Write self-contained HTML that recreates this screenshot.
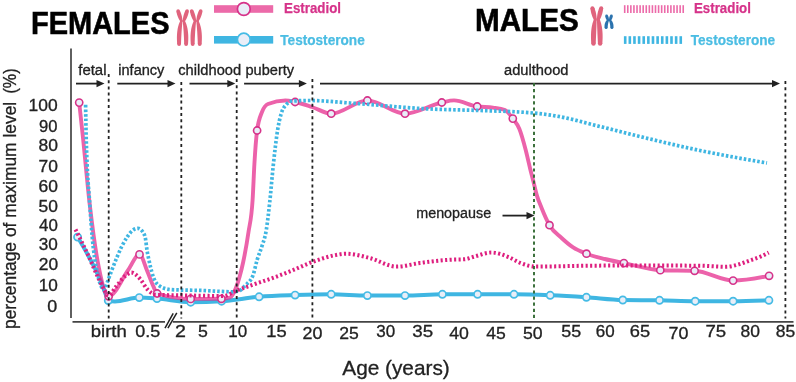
<!DOCTYPE html>
<html><head><meta charset="utf-8"><style>
html,body{margin:0;padding:0;background:#fff;}
svg{display:block;will-change:transform;}
text{font-family:"Liberation Sans",sans-serif;}
</style></head><body>
<svg width="796" height="382" viewBox="0 0 796 382">
<rect width="796" height="382" fill="#fff"/>
<line x1="71" y1="48.5" x2="71" y2="318" stroke="#444" stroke-width="1.7"/><line x1="72.5" y1="321.9" x2="165" y2="321.9" stroke="#444" stroke-width="1.6"/><line x1="172.8" y1="321.9" x2="793.5" y2="321.9" stroke="#444" stroke-width="1.6"/><line x1="165" y1="328.2" x2="173.2" y2="313.3" stroke="#222" stroke-width="1.5"/><line x1="167.9" y1="328.2" x2="176.8" y2="312.9" stroke="#222" stroke-width="1.5"/><line x1="76" y1="83.6" x2="98.5" y2="83.6" stroke="#222" stroke-width="1.8"/><path d="M96.5,80.0 L104.5,83.6 L96.5,87.19999999999999 Z" fill="#222"/><line x1="117.3" y1="83.6" x2="169.5" y2="83.6" stroke="#222" stroke-width="1.8"/><path d="M167.5,80.0 L175.5,83.6 L167.5,87.19999999999999 Z" fill="#222"/><line x1="189.5" y1="83.6" x2="229.3" y2="83.6" stroke="#222" stroke-width="1.8"/><path d="M227.3,80.0 L235.3,83.6 L227.3,87.19999999999999 Z" fill="#222"/><line x1="244.1" y1="83.6" x2="300.9" y2="83.6" stroke="#222" stroke-width="1.8"/><path d="M298.9,80.0 L306.9,83.6 L298.9,87.19999999999999 Z" fill="#222"/><line x1="320" y1="83.6" x2="774" y2="83.6" stroke="#222" stroke-width="1.8"/><path d="M772,80.0 L780,83.6 L772,87.19999999999999 Z" fill="#222"/><line x1="502.5" y1="215.6" x2="528.5" y2="215.6" stroke="#222" stroke-width="1.8"/><path d="M526.5,212.0 L534.5,215.6 L526.5,219.2 Z" fill="#222"/><path d="M77.60,237.10 C81.50,243.60 85.40,250.09 89.30,257.50 C92.97,264.46 96.63,270.96 100.30,280.00 C101.93,284.03 103.57,288.87 105.20,293.00 C106.23,295.61 107.27,300.35 108.30,300.60 C110.53,301.13 112.77,301.40 115.00,301.40 C123.10,301.40 131.20,297.60 139.30,297.60 C145.20,297.60 151.10,298.16 157.00,298.60 C168.23,299.43 179.47,302.20 190.70,302.20 C201.00,302.20 211.30,301.87 221.60,301.20 C234.10,300.39 246.60,297.82 259.10,296.80 C271.10,295.82 283.10,295.52 295.10,295.10 C307.13,294.68 319.17,294.30 331.20,294.30 C343.27,294.30 355.33,295.60 367.40,295.60 C379.93,295.60 392.47,295.60 405.00,295.60 C417.47,295.60 429.93,294.30 442.40,294.30 C454.13,294.30 465.87,294.30 477.60,294.30 C489.73,294.30 501.87,294.30 514.00,294.30 C526.07,294.30 538.13,294.80 550.20,295.30 C562.27,295.80 574.33,296.52 586.40,297.30 C598.53,298.08 610.67,299.80 622.80,300.00 C635.03,300.20 647.27,300.10 659.50,300.30 C671.40,300.49 683.30,301.20 695.20,301.20 C707.83,301.20 720.47,301.20 733.10,301.20 C745.03,301.20 756.97,300.75 768.90,300.30" fill="none" stroke="#3fb6e2" stroke-width="4.0" stroke-linecap="round" stroke-linejoin="round"/><circle cx="77.6" cy="237.1" r="3.6" fill="#e9eef8" stroke="#45bbe5" stroke-width="1.7"/><circle cx="108.3" cy="300.6" r="3.6" fill="#e9eef8" stroke="#45bbe5" stroke-width="1.7"/><circle cx="139.3" cy="297.6" r="3.6" fill="#e9eef8" stroke="#45bbe5" stroke-width="1.7"/><circle cx="157" cy="298.6" r="3.6" fill="#e9eef8" stroke="#45bbe5" stroke-width="1.7"/><circle cx="190.7" cy="302.2" r="3.6" fill="#e9eef8" stroke="#45bbe5" stroke-width="1.7"/><circle cx="221.6" cy="301.2" r="3.6" fill="#e9eef8" stroke="#45bbe5" stroke-width="1.7"/><circle cx="259.1" cy="296.8" r="3.6" fill="#e9eef8" stroke="#45bbe5" stroke-width="1.7"/><circle cx="295.1" cy="295.1" r="3.6" fill="#e9eef8" stroke="#45bbe5" stroke-width="1.7"/><circle cx="331.2" cy="294.3" r="3.6" fill="#e9eef8" stroke="#45bbe5" stroke-width="1.7"/><circle cx="367.4" cy="295.6" r="3.6" fill="#e9eef8" stroke="#45bbe5" stroke-width="1.7"/><circle cx="405" cy="295.6" r="3.6" fill="#e9eef8" stroke="#45bbe5" stroke-width="1.7"/><circle cx="442.4" cy="294.3" r="3.6" fill="#e9eef8" stroke="#45bbe5" stroke-width="1.7"/><circle cx="477.6" cy="294.3" r="3.6" fill="#e9eef8" stroke="#45bbe5" stroke-width="1.7"/><circle cx="514" cy="294.3" r="3.6" fill="#e9eef8" stroke="#45bbe5" stroke-width="1.7"/><circle cx="550.2" cy="295.3" r="3.6" fill="#e9eef8" stroke="#45bbe5" stroke-width="1.7"/><circle cx="586.4" cy="297.3" r="3.6" fill="#e9eef8" stroke="#45bbe5" stroke-width="1.7"/><circle cx="622.8" cy="300.0" r="3.6" fill="#e9eef8" stroke="#45bbe5" stroke-width="1.7"/><circle cx="659.5" cy="300.3" r="3.6" fill="#e9eef8" stroke="#45bbe5" stroke-width="1.7"/><circle cx="695.2" cy="301.2" r="3.6" fill="#e9eef8" stroke="#45bbe5" stroke-width="1.7"/><circle cx="733.1" cy="301.2" r="3.6" fill="#e9eef8" stroke="#45bbe5" stroke-width="1.7"/><circle cx="768.9" cy="300.3" r="3.6" fill="#e9eef8" stroke="#45bbe5" stroke-width="1.7"/><path d="M79.20,102.60 C80.33,112.95 81.47,123.31 82.60,134.00 C85.03,156.96 87.47,185.24 89.90,206.00 C92.90,231.59 95.90,253.08 98.90,268.00 C102.17,284.25 105.43,296.30 108.70,296.30 C115.17,296.30 121.63,278.94 128.10,270.10 C131.90,264.90 135.70,254.40 139.50,254.40 C142.07,254.40 144.63,265.09 147.20,271.10 C149.23,275.86 151.27,281.86 153.30,286.20 C154.57,288.90 155.83,293.09 157.10,293.50 C168.30,297.10 179.50,298.90 190.70,298.90 C200.93,298.90 211.17,298.87 221.40,298.80 C224.27,298.78 227.13,298.37 230.00,297.50 C232.10,296.87 234.20,292.49 236.30,287.00 C237.47,283.95 238.63,280.24 239.80,276.00 C240.93,271.88 242.07,267.35 243.20,262.00 C244.97,253.66 246.73,244.14 248.50,232.00 C249.87,222.61 251.23,221.33 252.60,200.00 C253.20,190.63 253.80,174.18 254.40,164.00 C255.30,148.73 256.20,137.30 257.10,130.50 C258.73,118.17 260.37,116.36 262.00,112.00 C264.00,106.67 266.00,104.81 268.00,104.00 C273.77,101.67 279.53,100.50 285.30,100.50 C288.57,100.50 291.83,101.33 295.10,102.00 C300.73,103.16 306.37,105.19 312.00,107.00 C318.40,109.05 324.80,113.70 331.20,113.70 C343.27,113.70 355.33,100.50 367.40,100.50 C379.93,100.50 392.47,113.70 405.00,113.70 C417.27,113.70 429.53,105.02 441.80,102.50 C445.87,101.67 449.93,100.40 454.00,100.40 C461.73,100.40 469.47,105.42 477.20,106.50 C482.47,107.23 487.73,106.87 493.00,107.60 C497.00,108.16 501.00,108.40 505.00,110.00 C507.60,111.04 510.20,115.07 512.80,118.60 C515.00,121.59 517.20,123.56 519.40,129.00 C521.50,134.20 523.60,141.97 525.70,150.00 C527.27,155.99 528.83,163.37 530.40,169.70 C531.47,174.01 532.53,178.03 533.60,182.30 C534.63,186.44 535.67,191.27 536.70,194.90 C538.27,200.41 539.83,203.59 541.40,207.50 C544.10,214.25 546.80,220.52 549.50,225.20 C553.53,232.19 557.57,234.23 561.60,238.00 C565.43,241.58 569.27,244.88 573.10,247.40 C577.57,250.33 582.03,251.94 586.50,253.70 C592.57,256.09 598.63,257.46 604.70,259.00 C611.10,260.62 617.50,261.77 623.90,263.10 C636.03,265.61 648.17,269.78 660.30,270.20 C671.73,270.60 683.17,270.40 694.60,270.80 C707.43,271.25 720.27,280.60 733.10,280.60 C745.10,280.60 757.10,278.20 769.10,275.80" fill="none" stroke="#e52589" stroke-opacity="0.72" stroke-width="3.9" stroke-linecap="round" stroke-linejoin="round"/><circle cx="79.2" cy="102.6" r="3.6" fill="#e9eef8" stroke="#d6338a" stroke-width="1.6"/><circle cx="108.7" cy="296.3" r="3.6" fill="#e9eef8" stroke="#d6338a" stroke-width="1.6"/><circle cx="139.5" cy="254.4" r="3.6" fill="#e9eef8" stroke="#d6338a" stroke-width="1.6"/><circle cx="157.1" cy="293.5" r="3.6" fill="#e9eef8" stroke="#d6338a" stroke-width="1.6"/><circle cx="190.7" cy="298.9" r="3.6" fill="#e9eef8" stroke="#d6338a" stroke-width="1.6"/><circle cx="221.4" cy="298.8" r="3.6" fill="#e9eef8" stroke="#d6338a" stroke-width="1.6"/><circle cx="257.1" cy="130.5" r="3.6" fill="#e9eef8" stroke="#d6338a" stroke-width="1.6"/><circle cx="295.1" cy="102" r="3.6" fill="#e9eef8" stroke="#d6338a" stroke-width="1.6"/><circle cx="331.2" cy="113.7" r="3.6" fill="#e9eef8" stroke="#d6338a" stroke-width="1.6"/><circle cx="367.4" cy="100.5" r="3.6" fill="#e9eef8" stroke="#d6338a" stroke-width="1.6"/><circle cx="405" cy="113.7" r="3.6" fill="#e9eef8" stroke="#d6338a" stroke-width="1.6"/><circle cx="441.8" cy="102.5" r="3.6" fill="#e9eef8" stroke="#d6338a" stroke-width="1.6"/><circle cx="477.2" cy="106.5" r="3.6" fill="#e9eef8" stroke="#d6338a" stroke-width="1.6"/><circle cx="512.8" cy="118.6" r="3.6" fill="#e9eef8" stroke="#d6338a" stroke-width="1.6"/><circle cx="549.5" cy="225.2" r="3.6" fill="#e9eef8" stroke="#d6338a" stroke-width="1.6"/><circle cx="586.5" cy="253.7" r="3.6" fill="#e9eef8" stroke="#d6338a" stroke-width="1.6"/><circle cx="623.9" cy="263.1" r="3.6" fill="#e9eef8" stroke="#d6338a" stroke-width="1.6"/><circle cx="660.3" cy="270.2" r="3.6" fill="#e9eef8" stroke="#d6338a" stroke-width="1.6"/><circle cx="694.6" cy="270.8" r="3.6" fill="#e9eef8" stroke="#d6338a" stroke-width="1.6"/><circle cx="733.1" cy="280.6" r="3.6" fill="#e9eef8" stroke="#d6338a" stroke-width="1.6"/><circle cx="769.1" cy="275.8" r="3.6" fill="#e9eef8" stroke="#d6338a" stroke-width="1.6"/><path d="M85.60,104.80 C85.77,116.24 85.93,127.68 86.10,134.00 C87.37,182.00 88.63,186.46 89.90,206.00 C91.47,230.16 93.03,247.87 94.60,258.00 C97.90,279.33 101.20,290.00 104.50,290.00 C105.17,290.00 105.83,286.32 106.50,284.50 C108.17,279.94 109.83,275.35 111.50,271.00 C113.27,266.39 115.03,261.90 116.80,257.70 C118.53,253.58 120.27,249.46 122.00,246.00 C123.77,242.47 125.53,239.40 127.30,236.80 C129.03,234.25 130.77,231.89 132.50,230.50 C134.33,229.03 136.17,228.30 138.00,228.30 C139.73,228.30 141.47,229.70 143.20,232.50 C144.03,233.85 144.87,235.03 145.70,240.10 C146.03,242.13 146.37,245.70 146.70,248.10 C147.53,254.11 148.37,257.28 149.20,261.20 C150.07,265.28 150.93,268.93 151.80,272.00 C153.97,279.68 156.13,283.49 158.30,285.10 C162.33,288.10 166.37,289.26 170.40,289.60 C173.60,289.87 176.80,289.89 180.00,290.00 C186.67,290.23 193.33,290.21 200.00,290.40 C211.33,290.72 222.67,291.80 234.00,291.80 C236.00,291.80 238.00,291.37 240.00,290.50 C241.67,289.78 243.33,287.43 245.00,285.60 C247.67,282.67 250.33,282.17 253.00,275.30 C254.37,271.78 255.73,264.56 257.10,260.00 C258.73,254.56 260.37,251.42 262.00,246.00 C263.43,241.25 264.87,238.83 266.30,230.00 C267.43,223.02 268.57,212.97 269.70,202.50 C270.87,191.72 272.03,176.98 273.20,166.00 C274.70,151.88 276.20,138.62 277.70,129.50 C278.73,123.22 279.77,118.77 280.80,115.00 C282.47,108.91 284.13,107.05 285.80,105.00 C287.97,102.33 290.13,101.12 292.30,101.00 C298.20,100.67 304.10,100.50 310.00,100.50 C323.33,100.50 336.67,102.11 350.00,103.00 C376.67,104.78 403.33,107.74 430.00,109.00 C446.67,109.79 463.33,109.86 480.00,110.50 C497.67,111.18 515.33,111.33 533.00,113.00 C540.33,113.69 547.67,114.60 555.00,115.80 C570.00,118.25 585.00,122.85 600.00,126.50 C616.67,130.56 633.33,135.00 650.00,139.00 C666.67,143.00 683.33,146.98 700.00,150.50 C722.33,155.22 744.67,159.11 767.00,163.00" fill="none" stroke="#3fb6e2" stroke-width="3.7" stroke-dasharray="2.55 2.0"/><path d="M75.50,229.50 C79.83,238.07 84.17,246.64 88.50,256.00 C91.50,262.48 94.50,269.91 97.50,276.20 C99.73,280.88 101.97,285.71 104.20,289.50 C105.63,291.93 107.07,296.00 108.50,296.00 C110.93,296.00 113.37,289.78 115.80,286.90 C119.77,282.20 123.73,276.20 127.70,274.00 C128.87,273.35 130.03,272.60 131.20,272.60 C134.20,272.60 137.20,275.72 140.20,279.10 C142.53,281.73 144.87,286.67 147.20,289.20 C150.17,292.42 153.13,294.68 156.10,294.80 C164.07,295.13 172.03,295.15 180.00,295.30 C194.67,295.58 209.33,296.00 224.00,296.00 C228.00,296.00 232.00,292.42 236.00,290.80 C242.33,288.24 248.67,286.22 255.00,284.00 C261.33,281.78 267.67,279.80 274.00,277.50 C279.33,275.56 284.67,273.52 290.00,271.40 C297.47,268.43 304.93,264.69 312.40,262.00 C319.93,259.28 327.47,256.62 335.00,255.20 C338.77,254.49 342.53,253.70 346.30,253.70 C354.20,253.70 362.10,256.13 370.00,258.10 C378.83,260.30 387.67,266.60 396.50,266.60 C404.33,266.60 412.17,264.05 420.00,263.00 C430.13,261.64 440.27,260.25 450.40,259.70 C455.07,259.45 459.73,259.57 464.40,259.30 C467.93,259.10 471.47,257.32 475.00,256.40 C480.43,254.99 485.87,252.50 491.30,252.50 C497.07,252.50 502.83,254.79 508.60,257.10 C512.63,258.72 516.67,261.56 520.70,263.10 C525.47,264.92 530.23,266.60 535.00,266.60 C553.33,266.60 571.67,265.86 590.00,265.70 C605.33,265.57 620.67,265.50 636.00,265.50 C657.33,265.50 678.67,265.57 700.00,265.70 C708.67,265.75 717.33,266.80 726.00,266.80 C730.43,266.80 734.87,265.45 739.30,264.20 C743.07,263.14 746.83,261.57 750.60,260.20 C754.37,258.83 758.13,257.70 761.90,256.00 C764.17,254.98 766.43,253.79 768.70,252.60" fill="none" stroke="#de1f7f" stroke-width="4" stroke-dasharray="2.1 2.4"/><line x1="108.7" y1="74" x2="108.7" y2="318.5" stroke="#222" stroke-width="1.8" stroke-dasharray="3 3.2"/><line x1="181.3" y1="82" x2="181.3" y2="318.5" stroke="#222" stroke-width="1.8" stroke-dasharray="3 3.2"/><line x1="236.7" y1="79" x2="236.7" y2="318.5" stroke="#222" stroke-width="1.8" stroke-dasharray="3 3.2"/><line x1="312.4" y1="79" x2="312.4" y2="318.5" stroke="#222" stroke-width="1.8" stroke-dasharray="3 3.2"/><line x1="785.4" y1="81" x2="785.4" y2="318.5" stroke="#222" stroke-width="1.8" stroke-dasharray="3 3.2"/><line x1="534" y1="83" x2="534" y2="321" stroke="#346b34" stroke-width="1.9" stroke-dasharray="3.2 2.9"/>
<rect x="214" y="5.2" width="59.2" height="7.6" fill="#ec6aa9"/><circle cx="243.8" cy="9" r="6.4" fill="#e9eef8" stroke="#d6338a" stroke-width="1.7"/><rect x="214" y="36" width="59.2" height="7.6" fill="#3fb6e2"/><circle cx="243.8" cy="39.6" r="6.4" fill="#e9eef8" stroke="#45bbe5" stroke-width="1.7"/><rect x="623.90" y="5.2" width="1.6" height="7.8" fill="#ec6aa9"/><rect x="626.98" y="5.2" width="1.6" height="7.8" fill="#ec6aa9"/><rect x="630.06" y="5.2" width="1.6" height="7.8" fill="#ec6aa9"/><rect x="633.14" y="5.2" width="1.6" height="7.8" fill="#ec6aa9"/><rect x="636.22" y="5.2" width="1.6" height="7.8" fill="#ec6aa9"/><rect x="639.30" y="5.2" width="1.6" height="7.8" fill="#ec6aa9"/><rect x="642.38" y="5.2" width="1.6" height="7.8" fill="#ec6aa9"/><rect x="645.46" y="5.2" width="1.6" height="7.8" fill="#ec6aa9"/><rect x="648.54" y="5.2" width="1.6" height="7.8" fill="#ec6aa9"/><rect x="651.62" y="5.2" width="1.6" height="7.8" fill="#ec6aa9"/><rect x="654.70" y="5.2" width="1.6" height="7.8" fill="#ec6aa9"/><rect x="657.78" y="5.2" width="1.6" height="7.8" fill="#ec6aa9"/><rect x="660.86" y="5.2" width="1.6" height="7.8" fill="#ec6aa9"/><rect x="663.94" y="5.2" width="1.6" height="7.8" fill="#ec6aa9"/><rect x="667.02" y="5.2" width="1.6" height="7.8" fill="#ec6aa9"/><rect x="670.10" y="5.2" width="1.6" height="7.8" fill="#ec6aa9"/><rect x="673.18" y="5.2" width="1.6" height="7.8" fill="#ec6aa9"/><rect x="676.26" y="5.2" width="1.6" height="7.8" fill="#ec6aa9"/><rect x="679.34" y="5.2" width="1.6" height="7.8" fill="#ec6aa9"/><rect x="682.42" y="5.2" width="1.6" height="7.8" fill="#ec6aa9"/><rect x="623.90" y="36.2" width="2.6" height="7.7" fill="#3fb6e2"/><rect x="628.53" y="36.2" width="2.6" height="7.7" fill="#3fb6e2"/><rect x="633.16" y="36.2" width="2.6" height="7.7" fill="#3fb6e2"/><rect x="637.79" y="36.2" width="2.6" height="7.7" fill="#3fb6e2"/><rect x="642.42" y="36.2" width="2.6" height="7.7" fill="#3fb6e2"/><rect x="647.05" y="36.2" width="2.6" height="7.7" fill="#3fb6e2"/><rect x="651.68" y="36.2" width="2.6" height="7.7" fill="#3fb6e2"/><rect x="656.31" y="36.2" width="2.6" height="7.7" fill="#3fb6e2"/><rect x="660.94" y="36.2" width="2.6" height="7.7" fill="#3fb6e2"/><rect x="665.57" y="36.2" width="2.6" height="7.7" fill="#3fb6e2"/><rect x="670.20" y="36.2" width="2.6" height="7.7" fill="#3fb6e2"/><rect x="674.83" y="36.2" width="2.6" height="7.7" fill="#3fb6e2"/><rect x="679.46" y="36.2" width="2.6" height="7.7" fill="#3fb6e2"/><path d="M176.38,11.54 L176.47,12.00 L176.56,12.45 L176.65,12.90 L176.76,13.35 L176.87,13.79 L176.99,14.23 L177.12,14.66 L177.25,15.09 L177.39,15.52 L177.54,15.94 L177.69,16.35 L177.85,16.77 L178.02,17.18 L178.19,17.58 L178.37,17.98 L178.56,18.38 L178.76,18.77 L178.96,19.15 L179.17,19.54 L179.38,19.91 L179.61,20.29 L179.84,20.66 L180.07,21.02 L180.31,21.38 L182.49,20.62 L182.45,20.19 L182.41,19.76 L182.37,19.34 L182.32,18.91 L182.26,18.48 L182.19,18.06 L182.12,17.63 L182.04,17.21 L181.95,16.78 L181.86,16.36 L181.76,15.94 L181.65,15.51 L181.53,15.09 L181.41,14.67 L181.29,14.25 L181.15,13.83 L181.01,13.40 L180.86,12.98 L180.70,12.56 L180.54,12.14 L180.37,11.72 L180.19,11.30 L180.01,10.88 L179.82,10.46 Z" fill="#e0637d"/><path d="M176.30,11.00 a1.80,1.80 0 1 0 3.60,0 a1.80,1.80 0 1 0 -3.60,0 Z" fill="#e0637d"/><path d="M180.25,21.00 a1.15,1.15 0 1 0 2.30,0 a1.15,1.15 0 1 0 -2.30,0 Z" fill="#e0637d"/><path d="M180.30,20.66 L179.95,21.39 L179.61,22.14 L179.30,22.91 L179.00,23.72 L178.73,24.54 L178.47,25.39 L178.23,26.26 L178.01,27.15 L177.81,28.07 L177.63,29.00 L177.48,29.96 L177.34,30.94 L177.22,31.93 L177.12,32.95 L177.04,33.99 L176.98,35.04 L176.93,36.12 L176.91,37.21 L176.91,38.32 L176.93,39.45 L176.97,40.60 L177.03,41.77 L177.10,42.95 L177.20,44.15 L181.00,44.05 L181.04,42.88 L181.08,41.73 L181.13,40.60 L181.17,39.49 L181.22,38.40 L181.27,37.34 L181.33,36.29 L181.38,35.27 L181.44,34.26 L181.49,33.28 L181.55,32.31 L181.61,31.36 L181.68,30.43 L181.74,29.52 L181.81,28.63 L181.88,27.76 L181.95,26.90 L182.02,26.06 L182.09,25.24 L182.17,24.43 L182.25,23.64 L182.33,22.86 L182.41,22.09 L182.50,21.34 Z" fill="#e0637d"/><path d="M180.25,21.00 a1.15,1.15 0 1 0 2.30,0 a1.15,1.15 0 1 0 -2.30,0 Z" fill="#e0637d"/><path d="M177.20,44.10 a1.90,1.90 0 1 0 3.80,0 a1.90,1.90 0 1 0 -3.80,0 Z" fill="#e0637d"/><path d="M185.38,10.46 L185.19,10.88 L185.01,11.30 L184.83,11.72 L184.66,12.14 L184.50,12.56 L184.34,12.98 L184.19,13.40 L184.05,13.83 L183.91,14.25 L183.79,14.67 L183.67,15.09 L183.55,15.51 L183.44,15.94 L183.34,16.36 L183.25,16.78 L183.16,17.21 L183.08,17.63 L183.01,18.06 L182.94,18.48 L182.88,18.91 L182.83,19.34 L182.79,19.76 L182.75,20.19 L182.71,20.62 L184.89,21.38 L185.13,21.02 L185.36,20.66 L185.59,20.29 L185.82,19.91 L186.03,19.54 L186.24,19.15 L186.44,18.77 L186.64,18.38 L186.83,17.98 L187.01,17.58 L187.18,17.18 L187.35,16.77 L187.51,16.35 L187.66,15.94 L187.81,15.52 L187.95,15.09 L188.08,14.66 L188.21,14.23 L188.33,13.79 L188.44,13.35 L188.55,12.90 L188.64,12.45 L188.73,12.00 L188.82,11.54 Z" fill="#e0637d"/><path d="M185.30,11.00 a1.80,1.80 0 1 0 3.60,0 a1.80,1.80 0 1 0 -3.60,0 Z" fill="#e0637d"/><path d="M182.65,21.00 a1.15,1.15 0 1 0 2.30,0 a1.15,1.15 0 1 0 -2.30,0 Z" fill="#e0637d"/><path d="M182.70,21.34 L182.79,22.09 L182.87,22.86 L182.95,23.64 L183.03,24.43 L183.11,25.24 L183.18,26.06 L183.25,26.90 L183.32,27.76 L183.39,28.63 L183.46,29.52 L183.52,30.43 L183.59,31.36 L183.65,32.31 L183.71,33.28 L183.76,34.26 L183.82,35.27 L183.87,36.29 L183.93,37.34 L183.98,38.40 L184.03,39.49 L184.07,40.60 L184.12,41.73 L184.16,42.88 L184.20,44.05 L188.00,44.15 L188.10,42.95 L188.17,41.77 L188.23,40.60 L188.27,39.45 L188.29,38.32 L188.29,37.21 L188.27,36.12 L188.22,35.04 L188.16,33.99 L188.08,32.95 L187.98,31.93 L187.86,30.94 L187.72,29.96 L187.57,29.00 L187.39,28.07 L187.19,27.15 L186.97,26.26 L186.73,25.39 L186.47,24.54 L186.20,23.72 L185.90,22.91 L185.59,22.14 L185.25,21.39 L184.90,20.66 Z" fill="#e0637d"/><path d="M182.65,21.00 a1.15,1.15 0 1 0 2.30,0 a1.15,1.15 0 1 0 -2.30,0 Z" fill="#e0637d"/><path d="M184.20,44.10 a1.90,1.90 0 1 0 3.80,0 a1.90,1.90 0 1 0 -3.80,0 Z" fill="#e0637d"/><path d="M189.98,11.54 L190.07,12.00 L190.16,12.45 L190.25,12.90 L190.36,13.35 L190.47,13.79 L190.59,14.23 L190.72,14.66 L190.85,15.09 L190.99,15.52 L191.14,15.94 L191.29,16.35 L191.45,16.77 L191.62,17.18 L191.79,17.58 L191.97,17.98 L192.16,18.38 L192.36,18.77 L192.56,19.15 L192.77,19.54 L192.98,19.91 L193.21,20.29 L193.44,20.66 L193.67,21.02 L193.91,21.38 L196.09,20.62 L196.05,20.19 L196.01,19.76 L195.97,19.34 L195.92,18.91 L195.86,18.48 L195.79,18.06 L195.72,17.63 L195.64,17.21 L195.55,16.78 L195.46,16.36 L195.36,15.94 L195.25,15.51 L195.13,15.09 L195.01,14.67 L194.89,14.25 L194.75,13.83 L194.61,13.40 L194.46,12.98 L194.30,12.56 L194.14,12.14 L193.97,11.72 L193.79,11.30 L193.61,10.88 L193.42,10.46 Z" fill="#e0637d"/><path d="M189.90,11.00 a1.80,1.80 0 1 0 3.60,0 a1.80,1.80 0 1 0 -3.60,0 Z" fill="#e0637d"/><path d="M193.85,21.00 a1.15,1.15 0 1 0 2.30,0 a1.15,1.15 0 1 0 -2.30,0 Z" fill="#e0637d"/><path d="M193.90,20.66 L193.55,21.39 L193.21,22.14 L192.90,22.91 L192.60,23.72 L192.33,24.54 L192.07,25.39 L191.83,26.26 L191.61,27.15 L191.41,28.07 L191.23,29.00 L191.08,29.96 L190.94,30.94 L190.82,31.93 L190.72,32.95 L190.64,33.99 L190.58,35.04 L190.53,36.12 L190.51,37.21 L190.51,38.32 L190.53,39.45 L190.57,40.60 L190.63,41.77 L190.70,42.95 L190.80,44.15 L194.60,44.05 L194.64,42.88 L194.68,41.73 L194.73,40.60 L194.77,39.49 L194.82,38.40 L194.87,37.34 L194.93,36.29 L194.98,35.27 L195.04,34.26 L195.09,33.28 L195.15,32.31 L195.21,31.36 L195.28,30.43 L195.34,29.52 L195.41,28.63 L195.48,27.76 L195.55,26.90 L195.62,26.06 L195.69,25.24 L195.77,24.43 L195.85,23.64 L195.93,22.86 L196.01,22.09 L196.10,21.34 Z" fill="#e0637d"/><path d="M193.85,21.00 a1.15,1.15 0 1 0 2.30,0 a1.15,1.15 0 1 0 -2.30,0 Z" fill="#e0637d"/><path d="M190.80,44.10 a1.90,1.90 0 1 0 3.80,0 a1.90,1.90 0 1 0 -3.80,0 Z" fill="#e0637d"/><path d="M198.98,10.46 L198.79,10.88 L198.61,11.30 L198.43,11.72 L198.26,12.14 L198.10,12.56 L197.94,12.98 L197.79,13.40 L197.65,13.83 L197.51,14.25 L197.39,14.67 L197.27,15.09 L197.15,15.51 L197.04,15.94 L196.94,16.36 L196.85,16.78 L196.76,17.21 L196.68,17.63 L196.61,18.06 L196.54,18.48 L196.48,18.91 L196.43,19.34 L196.39,19.76 L196.35,20.19 L196.31,20.62 L198.49,21.38 L198.73,21.02 L198.96,20.66 L199.19,20.29 L199.42,19.91 L199.63,19.54 L199.84,19.15 L200.04,18.77 L200.24,18.38 L200.43,17.98 L200.61,17.58 L200.78,17.18 L200.95,16.77 L201.11,16.35 L201.26,15.94 L201.41,15.52 L201.55,15.09 L201.68,14.66 L201.81,14.23 L201.93,13.79 L202.04,13.35 L202.15,12.90 L202.24,12.45 L202.33,12.00 L202.42,11.54 Z" fill="#e0637d"/><path d="M198.90,11.00 a1.80,1.80 0 1 0 3.60,0 a1.80,1.80 0 1 0 -3.60,0 Z" fill="#e0637d"/><path d="M196.25,21.00 a1.15,1.15 0 1 0 2.30,0 a1.15,1.15 0 1 0 -2.30,0 Z" fill="#e0637d"/><path d="M196.30,21.34 L196.39,22.09 L196.47,22.86 L196.55,23.64 L196.63,24.43 L196.71,25.24 L196.78,26.06 L196.85,26.90 L196.92,27.76 L196.99,28.63 L197.06,29.52 L197.12,30.43 L197.19,31.36 L197.25,32.31 L197.31,33.28 L197.36,34.26 L197.42,35.27 L197.47,36.29 L197.53,37.34 L197.58,38.40 L197.63,39.49 L197.67,40.60 L197.72,41.73 L197.76,42.88 L197.80,44.05 L201.60,44.15 L201.70,42.95 L201.77,41.77 L201.83,40.60 L201.87,39.45 L201.89,38.32 L201.89,37.21 L201.87,36.12 L201.82,35.04 L201.76,33.99 L201.68,32.95 L201.58,31.93 L201.46,30.94 L201.32,29.96 L201.17,29.00 L200.99,28.07 L200.79,27.15 L200.57,26.26 L200.33,25.39 L200.07,24.54 L199.80,23.72 L199.50,22.91 L199.19,22.14 L198.85,21.39 L198.50,20.66 Z" fill="#e0637d"/><path d="M196.25,21.00 a1.15,1.15 0 1 0 2.30,0 a1.15,1.15 0 1 0 -2.30,0 Z" fill="#e0637d"/><path d="M197.80,44.10 a1.90,1.90 0 1 0 3.80,0 a1.90,1.90 0 1 0 -3.80,0 Z" fill="#e0637d"/><path d="M590.46,8.67 L590.52,9.19 L590.58,9.70 L590.66,10.21 L590.74,10.72 L590.83,11.22 L590.93,11.72 L591.03,12.21 L591.15,12.71 L591.27,13.19 L591.39,13.67 L591.53,14.15 L591.67,14.62 L591.82,15.09 L591.98,15.56 L592.14,16.02 L592.31,16.48 L592.49,16.93 L592.68,17.38 L592.87,17.82 L593.07,18.26 L593.28,18.69 L593.50,19.12 L593.72,19.55 L593.95,19.97 L596.65,19.23 L596.64,18.76 L596.62,18.28 L596.60,17.81 L596.56,17.33 L596.52,16.86 L596.47,16.38 L596.42,15.90 L596.36,15.43 L596.29,14.95 L596.21,14.47 L596.12,13.99 L596.03,13.52 L595.93,13.04 L595.82,12.56 L595.71,12.08 L595.59,11.60 L595.46,11.12 L595.32,10.63 L595.18,10.15 L595.03,9.67 L594.87,9.19 L594.70,8.70 L594.53,8.22 L594.34,7.73 Z" fill="#e0637d"/><path d="M590.40,8.20 a2.00,2.00 0 1 0 4.00,0 a2.00,2.00 0 1 0 -4.00,0 Z" fill="#e0637d"/><path d="M593.90,19.60 a1.40,1.40 0 1 0 2.80,0 a1.40,1.40 0 1 0 -2.80,0 Z" fill="#e0637d"/><path d="M593.94,19.29 L593.62,20.05 L593.32,20.84 L593.04,21.66 L592.77,22.50 L592.52,23.36 L592.30,24.24 L592.09,25.15 L591.89,26.07 L591.72,27.02 L591.56,28.00 L591.43,28.99 L591.31,30.00 L591.21,31.03 L591.12,32.08 L591.06,33.15 L591.01,34.24 L590.99,35.35 L590.98,36.48 L590.98,37.63 L591.01,38.80 L591.06,39.98 L591.12,41.18 L591.20,42.41 L591.30,43.64 L595.70,43.56 L595.76,42.34 L595.81,41.15 L595.87,39.98 L595.92,38.83 L595.97,37.70 L596.02,36.60 L596.07,35.51 L596.12,34.44 L596.17,33.39 L596.21,32.37 L596.25,31.36 L596.29,30.37 L596.33,29.40 L596.37,28.45 L596.41,27.52 L596.44,26.61 L596.47,25.71 L596.50,24.84 L596.53,23.98 L596.56,23.13 L596.59,22.30 L596.62,21.49 L596.64,20.70 L596.66,19.91 Z" fill="#e0637d"/><path d="M593.90,19.60 a1.40,1.40 0 1 0 2.80,0 a1.40,1.40 0 1 0 -2.80,0 Z" fill="#e0637d"/><path d="M591.30,43.60 a2.20,2.20 0 1 0 4.40,0 a2.20,2.20 0 1 0 -4.40,0 Z" fill="#e0637d"/><path d="M599.26,7.73 L599.07,8.22 L598.90,8.70 L598.73,9.19 L598.57,9.67 L598.42,10.15 L598.28,10.63 L598.14,11.12 L598.01,11.60 L597.89,12.08 L597.78,12.56 L597.67,13.04 L597.57,13.52 L597.48,13.99 L597.39,14.47 L597.31,14.95 L597.24,15.43 L597.18,15.90 L597.13,16.38 L597.08,16.86 L597.04,17.33 L597.00,17.81 L596.98,18.28 L596.96,18.76 L596.95,19.23 L599.65,19.97 L599.88,19.55 L600.10,19.12 L600.32,18.69 L600.53,18.26 L600.73,17.82 L600.92,17.38 L601.11,16.93 L601.29,16.48 L601.46,16.02 L601.62,15.56 L601.78,15.09 L601.93,14.62 L602.07,14.15 L602.21,13.67 L602.33,13.19 L602.45,12.71 L602.57,12.21 L602.67,11.72 L602.77,11.22 L602.86,10.72 L602.94,10.21 L603.02,9.70 L603.08,9.19 L603.14,8.67 Z" fill="#e0637d"/><path d="M599.20,8.20 a2.00,2.00 0 1 0 4.00,0 a2.00,2.00 0 1 0 -4.00,0 Z" fill="#e0637d"/><path d="M596.90,19.60 a1.40,1.40 0 1 0 2.80,0 a1.40,1.40 0 1 0 -2.80,0 Z" fill="#e0637d"/><path d="M596.94,19.91 L596.96,20.70 L596.98,21.49 L597.01,22.30 L597.04,23.13 L597.07,23.98 L597.10,24.84 L597.13,25.71 L597.16,26.61 L597.19,27.52 L597.23,28.45 L597.27,29.40 L597.31,30.37 L597.35,31.36 L597.39,32.37 L597.43,33.39 L597.48,34.44 L597.53,35.51 L597.58,36.60 L597.63,37.70 L597.68,38.83 L597.73,39.98 L597.79,41.15 L597.84,42.34 L597.90,43.56 L602.30,43.64 L602.40,42.41 L602.48,41.18 L602.54,39.98 L602.59,38.80 L602.62,37.63 L602.62,36.48 L602.61,35.35 L602.59,34.24 L602.54,33.15 L602.48,32.08 L602.39,31.03 L602.29,30.00 L602.17,28.99 L602.04,28.00 L601.88,27.02 L601.71,26.07 L601.51,25.15 L601.30,24.24 L601.08,23.36 L600.83,22.50 L600.56,21.66 L600.28,20.84 L599.98,20.05 L599.66,19.29 Z" fill="#e0637d"/><path d="M596.90,19.60 a1.40,1.40 0 1 0 2.80,0 a1.40,1.40 0 1 0 -2.80,0 Z" fill="#e0637d"/><path d="M597.90,43.60 a2.20,2.20 0 1 0 4.40,0 a2.20,2.20 0 1 0 -4.40,0 Z" fill="#e0637d"/><path d="M605.28,16.46 L605.31,16.64 L605.34,16.81 L605.37,16.99 L605.41,17.16 L605.46,17.34 L605.50,17.51 L605.56,17.69 L605.61,17.86 L605.67,18.03 L605.73,18.20 L605.80,18.38 L605.87,18.55 L605.95,18.72 L606.03,18.89 L606.11,19.06 L606.20,19.23 L606.29,19.41 L606.39,19.58 L606.49,19.75 L606.59,19.92 L606.70,20.09 L606.81,20.25 L606.92,20.42 L607.04,20.59 L608.96,20.01 L608.96,19.80 L608.96,19.59 L608.95,19.38 L608.94,19.18 L608.93,18.98 L608.91,18.78 L608.89,18.58 L608.87,18.38 L608.84,18.19 L608.80,18.00 L608.77,17.81 L608.73,17.62 L608.68,17.44 L608.63,17.25 L608.58,17.07 L608.52,16.89 L608.46,16.72 L608.40,16.54 L608.33,16.37 L608.25,16.20 L608.18,16.03 L608.10,15.87 L608.01,15.70 L607.92,15.54 Z" fill="#2c73ae"/><path d="M605.20,16.00 a1.40,1.40 0 1 0 2.80,0 a1.40,1.40 0 1 0 -2.80,0 Z" fill="#2c73ae"/><path d="M607.00,20.30 a1.00,1.00 0 1 0 2.00,0 a1.00,1.00 0 1 0 -2.00,0 Z" fill="#2c73ae"/><path d="M607.16,19.75 L606.92,19.99 L606.69,20.24 L606.47,20.50 L606.25,20.76 L606.05,21.04 L605.86,21.33 L605.69,21.62 L605.52,21.93 L605.36,22.24 L605.22,22.56 L605.09,22.88 L604.98,23.21 L604.87,23.55 L604.78,23.89 L604.71,24.24 L604.64,24.60 L604.59,24.95 L604.55,25.31 L604.53,25.68 L604.52,26.04 L604.52,26.41 L604.53,26.79 L604.56,27.16 L604.60,27.54 L607.60,27.46 L607.63,27.15 L607.66,26.84 L607.70,26.54 L607.73,26.25 L607.77,25.96 L607.81,25.67 L607.85,25.39 L607.89,25.11 L607.93,24.84 L607.98,24.57 L608.02,24.30 L608.07,24.03 L608.12,23.77 L608.17,23.50 L608.23,23.24 L608.28,22.98 L608.34,22.72 L608.40,22.45 L608.46,22.19 L608.53,21.93 L608.60,21.66 L608.67,21.39 L608.75,21.12 L608.84,20.85 Z" fill="#2c73ae"/><path d="M607.00,20.30 a1.00,1.00 0 1 0 2.00,0 a1.00,1.00 0 1 0 -2.00,0 Z" fill="#2c73ae"/><path d="M604.60,27.50 a1.50,1.50 0 1 0 3.00,0 a1.50,1.50 0 1 0 -3.00,0 Z" fill="#2c73ae"/><path d="M610.08,15.54 L609.99,15.70 L609.90,15.87 L609.82,16.03 L609.75,16.20 L609.67,16.37 L609.60,16.54 L609.54,16.72 L609.48,16.89 L609.42,17.07 L609.37,17.25 L609.32,17.44 L609.27,17.62 L609.23,17.81 L609.20,18.00 L609.16,18.19 L609.13,18.38 L609.11,18.58 L609.09,18.78 L609.07,18.98 L609.06,19.18 L609.05,19.38 L609.04,19.59 L609.04,19.80 L609.04,20.01 L610.96,20.59 L611.08,20.42 L611.19,20.25 L611.30,20.09 L611.41,19.92 L611.51,19.75 L611.61,19.58 L611.71,19.41 L611.80,19.23 L611.89,19.06 L611.97,18.89 L612.05,18.72 L612.13,18.55 L612.20,18.38 L612.27,18.20 L612.33,18.03 L612.39,17.86 L612.44,17.69 L612.50,17.51 L612.54,17.34 L612.59,17.16 L612.63,16.99 L612.66,16.81 L612.69,16.64 L612.72,16.46 Z" fill="#2c73ae"/><path d="M610.00,16.00 a1.40,1.40 0 1 0 2.80,0 a1.40,1.40 0 1 0 -2.80,0 Z" fill="#2c73ae"/><path d="M609.00,20.30 a1.00,1.00 0 1 0 2.00,0 a1.00,1.00 0 1 0 -2.00,0 Z" fill="#2c73ae"/><path d="M609.16,20.85 L609.25,21.12 L609.33,21.39 L609.40,21.66 L609.47,21.93 L609.54,22.19 L609.60,22.45 L609.66,22.72 L609.72,22.98 L609.77,23.24 L609.83,23.50 L609.88,23.77 L609.93,24.03 L609.98,24.30 L610.02,24.57 L610.07,24.84 L610.11,25.11 L610.15,25.39 L610.19,25.67 L610.23,25.96 L610.27,26.25 L610.30,26.54 L610.34,26.84 L610.37,27.15 L610.40,27.46 L613.40,27.54 L613.44,27.16 L613.47,26.79 L613.48,26.41 L613.48,26.04 L613.47,25.68 L613.45,25.31 L613.41,24.95 L613.36,24.60 L613.29,24.24 L613.22,23.89 L613.13,23.55 L613.02,23.21 L612.91,22.88 L612.78,22.56 L612.64,22.24 L612.48,21.93 L612.31,21.62 L612.14,21.33 L611.95,21.04 L611.75,20.76 L611.53,20.50 L611.31,20.24 L611.08,19.99 L610.84,19.75 Z" fill="#2c73ae"/><path d="M609.00,20.30 a1.00,1.00 0 1 0 2.00,0 a1.00,1.00 0 1 0 -2.00,0 Z" fill="#2c73ae"/><path d="M610.40,27.50 a1.50,1.50 0 1 0 3.00,0 a1.50,1.50 0 1 0 -3.00,0 Z" fill="#2c73ae"/>
<text x="31.00" y="33.85" font-size="32.20" font-weight="bold" fill="#000" stroke="#000" stroke-width="0.6" textLength="138.50" lengthAdjust="spacingAndGlyphs">FEMALES</text><text x="475.00" y="31.40" font-size="32.20" font-weight="bold" fill="#000" stroke="#000" stroke-width="0.6" textLength="103.79" lengthAdjust="spacingAndGlyphs">MALES</text><text x="284.00" y="12.60" font-size="14.08" font-weight="bold" fill="#d6338a" stroke="#d6338a" stroke-width="0.25" textLength="56.97" lengthAdjust="spacingAndGlyphs">Estradiol</text><text x="280.25" y="44.85" font-size="14.08" font-weight="bold" fill="#4bbde3" stroke="#4bbde3" stroke-width="0.25" textLength="84.49" lengthAdjust="spacingAndGlyphs">Testosterone</text><text x="694.00" y="12.60" font-size="14.08" font-weight="bold" fill="#d6338a" stroke="#d6338a" stroke-width="0.25" textLength="56.92" lengthAdjust="spacingAndGlyphs">Estradiol</text><text x="690.75" y="44.85" font-size="14.08" font-weight="bold" fill="#4bbde3" stroke="#4bbde3" stroke-width="0.25" textLength="84.39" lengthAdjust="spacingAndGlyphs">Testosterone</text><text x="78.25" y="74.65" font-size="14.04" font-weight="normal" fill="#222" stroke="#222" stroke-width="0.3" textLength="28.25" lengthAdjust="spacingAndGlyphs">fetal</text><text x="118.25" y="75.05" font-size="14.04" font-weight="normal" fill="#222" stroke="#222" stroke-width="0.3" textLength="46.15" lengthAdjust="spacingAndGlyphs">infancy</text><text x="178.25" y="75.00" font-size="14.04" font-weight="normal" fill="#222" stroke="#222" stroke-width="0.3" textLength="62.91" lengthAdjust="spacingAndGlyphs">childhood</text><text x="245.50" y="75.00" font-size="14.04" font-weight="normal" fill="#222" stroke="#222" stroke-width="0.3" textLength="48.67" lengthAdjust="spacingAndGlyphs">puberty</text><text x="504.00" y="74.90" font-size="14.04" font-weight="normal" fill="#222" stroke="#222" stroke-width="0.3" textLength="64.49" lengthAdjust="spacingAndGlyphs">adulthood</text><text x="416.25" y="218.00" font-size="14.04" font-weight="normal" fill="#222" stroke="#222" stroke-width="0.3" textLength="74.86" lengthAdjust="spacingAndGlyphs">menopause</text><text x="342.25" y="374.90" font-size="20.40" font-weight="normal" fill="#222" stroke="#222" stroke-width="0.3" textLength="107.52" lengthAdjust="spacingAndGlyphs">Age (years)</text><text x="90.75" y="337.20" font-size="16.10" font-weight="normal" fill="#222" stroke="#222" stroke-width="0.3" textLength="36.00" lengthAdjust="spacingAndGlyphs">birth</text><text x="135.25" y="337.35" font-size="16.10" font-weight="normal" fill="#222" stroke="#222" stroke-width="0.3" textLength="24.94" lengthAdjust="spacingAndGlyphs">0.5</text><text x="175.00" y="337.35" font-size="16.10" font-weight="normal" fill="#222" stroke="#222" stroke-width="0.3" textLength="10.91" lengthAdjust="spacingAndGlyphs">2</text><text x="198.00" y="337.10" font-size="16.10" font-weight="normal" fill="#222" stroke="#222" stroke-width="0.3" textLength="9.86" lengthAdjust="spacingAndGlyphs">5</text><text x="228.25" y="337.40" font-size="16.10" font-weight="normal" fill="#222" stroke="#222" stroke-width="0.3" textLength="18.91" lengthAdjust="spacingAndGlyphs">10</text><text x="266.25" y="337.40" font-size="16.10" font-weight="normal" fill="#222" stroke="#222" stroke-width="0.3" textLength="20.41" lengthAdjust="spacingAndGlyphs">15</text><text x="302.50" y="338.80" font-size="16.10" font-weight="normal" fill="#222" stroke="#222" stroke-width="0.3" textLength="19.89" lengthAdjust="spacingAndGlyphs">20</text><text x="339.25" y="338.80" font-size="16.10" font-weight="normal" fill="#222" stroke="#222" stroke-width="0.3" textLength="19.55" lengthAdjust="spacingAndGlyphs">25</text><text x="376.25" y="337.40" font-size="16.10" font-weight="normal" fill="#222" stroke="#222" stroke-width="0.3" textLength="18.91" lengthAdjust="spacingAndGlyphs">30</text><text x="412.25" y="337.40" font-size="16.10" font-weight="normal" fill="#222" stroke="#222" stroke-width="0.3" textLength="20.86" lengthAdjust="spacingAndGlyphs">35</text><text x="449.25" y="338.80" font-size="16.10" font-weight="normal" fill="#222" stroke="#222" stroke-width="0.3" textLength="19.67" lengthAdjust="spacingAndGlyphs">40</text><text x="486.25" y="338.80" font-size="16.10" font-weight="normal" fill="#222" stroke="#222" stroke-width="0.3" textLength="19.51" lengthAdjust="spacingAndGlyphs">45</text><text x="523.00" y="338.80" font-size="16.10" font-weight="normal" fill="#222" stroke="#222" stroke-width="0.3" textLength="19.60" lengthAdjust="spacingAndGlyphs">50</text><text x="561.25" y="337.40" font-size="16.10" font-weight="normal" fill="#222" stroke="#222" stroke-width="0.3" textLength="19.93" lengthAdjust="spacingAndGlyphs">55</text><text x="595.75" y="337.40" font-size="16.10" font-weight="normal" fill="#222" stroke="#222" stroke-width="0.3" textLength="18.87" lengthAdjust="spacingAndGlyphs">60</text><text x="629.75" y="337.40" font-size="16.10" font-weight="normal" fill="#222" stroke="#222" stroke-width="0.3" textLength="20.31" lengthAdjust="spacingAndGlyphs">65</text><text x="668.50" y="338.80" font-size="16.10" font-weight="normal" fill="#222" stroke="#222" stroke-width="0.3" textLength="19.84" lengthAdjust="spacingAndGlyphs">70</text><text x="705.50" y="337.40" font-size="16.10" font-weight="normal" fill="#222" stroke="#222" stroke-width="0.3" textLength="20.74" lengthAdjust="spacingAndGlyphs">75</text><text x="740.50" y="337.40" font-size="16.10" font-weight="normal" fill="#222" stroke="#222" stroke-width="0.3" textLength="19.44" lengthAdjust="spacingAndGlyphs">80</text><text x="775.75" y="337.40" font-size="16.10" font-weight="normal" fill="#222" stroke="#222" stroke-width="0.3" textLength="19.46" lengthAdjust="spacingAndGlyphs">85</text><text x="28.50" y="111.00" font-size="16.10" font-weight="normal" fill="#222" stroke="#222" stroke-width="0.3" textLength="29.08" lengthAdjust="spacingAndGlyphs">100</text><text x="39.00" y="132.00" font-size="16.10" font-weight="normal" fill="#222" stroke="#222" stroke-width="0.3" textLength="18.44" lengthAdjust="spacingAndGlyphs">90</text><text x="38.50" y="151.25" font-size="16.10" font-weight="normal" fill="#222" stroke="#222" stroke-width="0.3" textLength="19.47" lengthAdjust="spacingAndGlyphs">80</text><text x="38.50" y="172.25" font-size="16.10" font-weight="normal" fill="#222" stroke="#222" stroke-width="0.3" textLength="19.38" lengthAdjust="spacingAndGlyphs">70</text><text x="38.50" y="192.00" font-size="16.10" font-weight="normal" fill="#222" stroke="#222" stroke-width="0.3" textLength="19.38" lengthAdjust="spacingAndGlyphs">60</text><text x="38.50" y="212.25" font-size="16.10" font-weight="normal" fill="#222" stroke="#222" stroke-width="0.3" textLength="19.35" lengthAdjust="spacingAndGlyphs">50</text><text x="39.00" y="231.00" font-size="16.10" font-weight="normal" fill="#222" stroke="#222" stroke-width="0.3" textLength="18.78" lengthAdjust="spacingAndGlyphs">40</text><text x="38.75" y="250.25" font-size="16.10" font-weight="normal" fill="#222" stroke="#222" stroke-width="0.3" textLength="19.08" lengthAdjust="spacingAndGlyphs">30</text><text x="38.75" y="270.25" font-size="16.10" font-weight="normal" fill="#222" stroke="#222" stroke-width="0.3" textLength="19.30" lengthAdjust="spacingAndGlyphs">20</text><text x="38.75" y="290.75" font-size="16.10" font-weight="normal" fill="#222" stroke="#222" stroke-width="0.3" textLength="19.13" lengthAdjust="spacingAndGlyphs">10</text><text x="47.25" y="311.50" font-size="16.10" font-weight="normal" fill="#222" stroke="#222" stroke-width="0.3" textLength="9.97" lengthAdjust="spacingAndGlyphs">0</text><text transform="translate(15.75,329.0) rotate(-90)" font-size="18.43" fill="#222" stroke="#222" stroke-width="0.3" textLength="227.23" lengthAdjust="spacingAndGlyphs">percentage of maximum level</text><text transform="translate(16.08,93.5) rotate(-90)" font-size="17.95" fill="#222" stroke="#222" stroke-width="0.3" textLength="25.08" lengthAdjust="spacingAndGlyphs">(%)</text>
</svg>
</body></html>
